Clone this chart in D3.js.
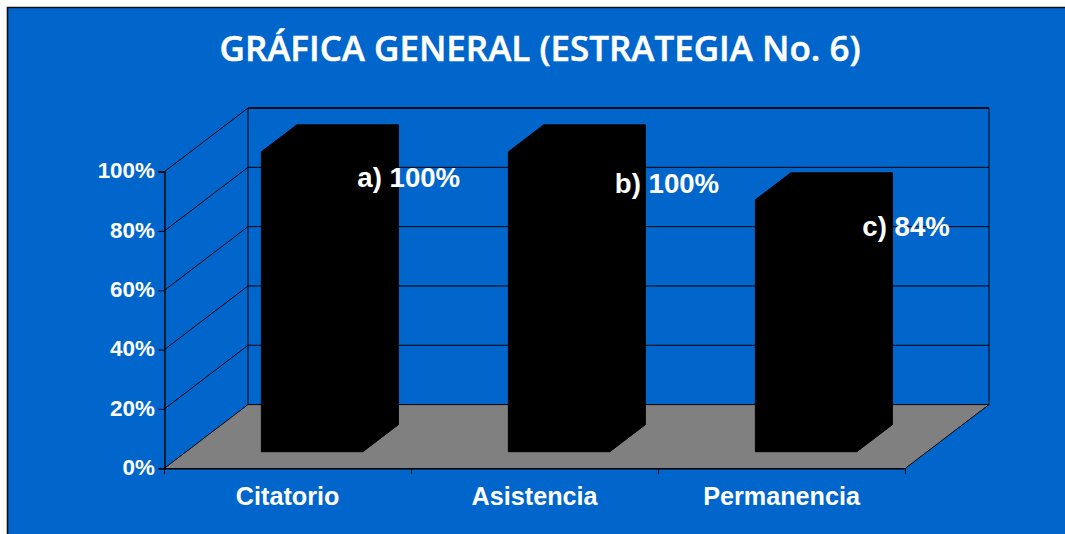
<!DOCTYPE html>
<html><head><meta charset="utf-8">
<script src="https://cdn.jsdelivr.net/npm/d3@7"></script>
<style>html,body{margin:0;padding:0;background:#fff}svg{display:block}
text{fill:#fff;font-family:"Liberation Sans",Arial,sans-serif;font-weight:700}</style>
</head><body><svg id="c" width="1065" height="534"></svg>
<script>
const title = "GRÁFICA GENERAL (ESTRATEGIA No. 6)";
const categories = ["Citatorio","Asistencia","Permanencia"];
const values = [100,100,84];
const letters = ["a)","b)","c)"];
const yTicks = [0,20,40,60,80,100];

const W=1065,H=534, ink="#000";
const left=164.5,right=905.5,y0=468.2,y100=171.6, dx=83.5,dy=-63.6;
const svg=d3.select("#c");
svg.append("rect").attr("x",7).attr("y",7).attr("width",W).attr("height",H).attr("fill","#0066CC");
svg.append("path").attr("d",`M7.5 ${H}V7.5H${W}`).attr("fill","none").attr("stroke","#111").attr("stroke-width",1.6);

const x=d3.scaleBand().domain(categories).range([left,right]);
const y=d3.scaleLinear().domain([0,100]).range([y0,y100]);
const line=d3.line();

// floor
svg.append("path").attr("d",line([[left,y0],[right,y0],[right+dx,y0+dy],[left+dx,y0+dy]])+"Z").attr("fill","#808080");

// walls and gridlines
const g=svg.append("g").attr("fill","none").attr("stroke",ink).attr("stroke-width",1);
yTicks.forEach(t=>{
  g.append("path").attr("d",line([[left,y(t)],[left+dx,y(t)+dy],[right+dx,y(t)+dy]]));
});
g.append("path").attr("d",line([[left+dx,y(100)+dy],[left+dx,y(0)+dy]]));
g.append("path").attr("d",line([[right+dx,y(100)+dy],[right+dx,y(0)+dy],[right,y0]]));
g.append("path").attr("d",line([[left+dx,y(100)+dy],[right+dx,y(100)+dy]])).attr("stroke-width",1.5);

// bars
const depthFrac=(y0-451.7)/(-dy), barInset=75.2, barW=101.5, bdx=35.5, bdy=-27;
const barY=d3.scaleLinear().domain([0,100]).range([451.7,151.8]);
const bars=svg.append("g");
categories.forEach((c,i)=>{
  const xl=x(c)+barInset+depthFrac*dx, xr=xl+barW, yb=barY(0), yt=barY(values[i]);
  bars.append("path").attr("d",line([[xl,yb],[xr,yb],[xr+bdx,yb+bdy],[xr+bdx,yt+bdy],[xl+bdx,yt+bdy],[xl,yt]])+"Z")
    .attr("fill","#000").attr("stroke","#000").attr("stroke-width",1).attr("stroke-linejoin","round");
});

// axes
const yAxis=d3.axisLeft(y).tickValues(yTicks).tickFormat(d=>d+"%").tickSize(6).tickPadding(3.6);
const ya=svg.append("g").attr("transform",`translate(${left},0)`).call(yAxis);
ya.selectAll("line").attr("stroke",ink);
ya.select(".domain").attr("stroke",ink).attr("stroke-width",1.5);
ya.selectAll("text").attr("font-size",22.4).attr("dy","0.28em").style("fill","#fff")
  .attr("font-family",'"Liberation Sans"').attr("font-weight",700);

const xa=svg.append("g").attr("transform",`translate(0,${y0})`).call(d3.axisBottom(x).tickSize(0).tickPadding(19));
xa.select(".domain").attr("stroke",ink).attr("stroke-width",1.5);
xa.selectAll("text").attr("font-size",25.2).attr("dy","0.71em").attr("dx",-0.4).style("fill","#fff")
  .attr("font-family",'"Liberation Sans"').attr("font-weight",700);
const xEdges=[...categories.map(c=>x(c)),right];
xa.selectAll("line.edge").data(xEdges).enter().append("line").attr("class","edge")
  .attr("x1",d=>d).attr("x2",d=>d).attr("y1",0).attr("y2",6).attr("stroke",ink);

// data labels
const labelShift=[[96,35],[106.5,41],[107,36.5]];
categories.forEach((c,i)=>{
  const xl=x(c)+barInset+depthFrac*dx, yt=barY(values[i]);
  svg.append("text").attr("x",xl+labelShift[i][0]).attr("y",yt+labelShift[i][1])
    .attr("font-size",27.6).text(`${letters[i]} ${values[i]}%`);
});

// title
svg.append("text").attr("x",540).attr("y",60.5).attr("text-anchor","middle")
  .attr("font-size",35).attr("textLength",641).attr("lengthAdjust","spacingAndGlyphs")
  .style("font-family",'"Open Sans"').style("font-weight",600)
  .style("stroke","#fff").style("stroke-width",0.5).text(title);
</script></body></html>
